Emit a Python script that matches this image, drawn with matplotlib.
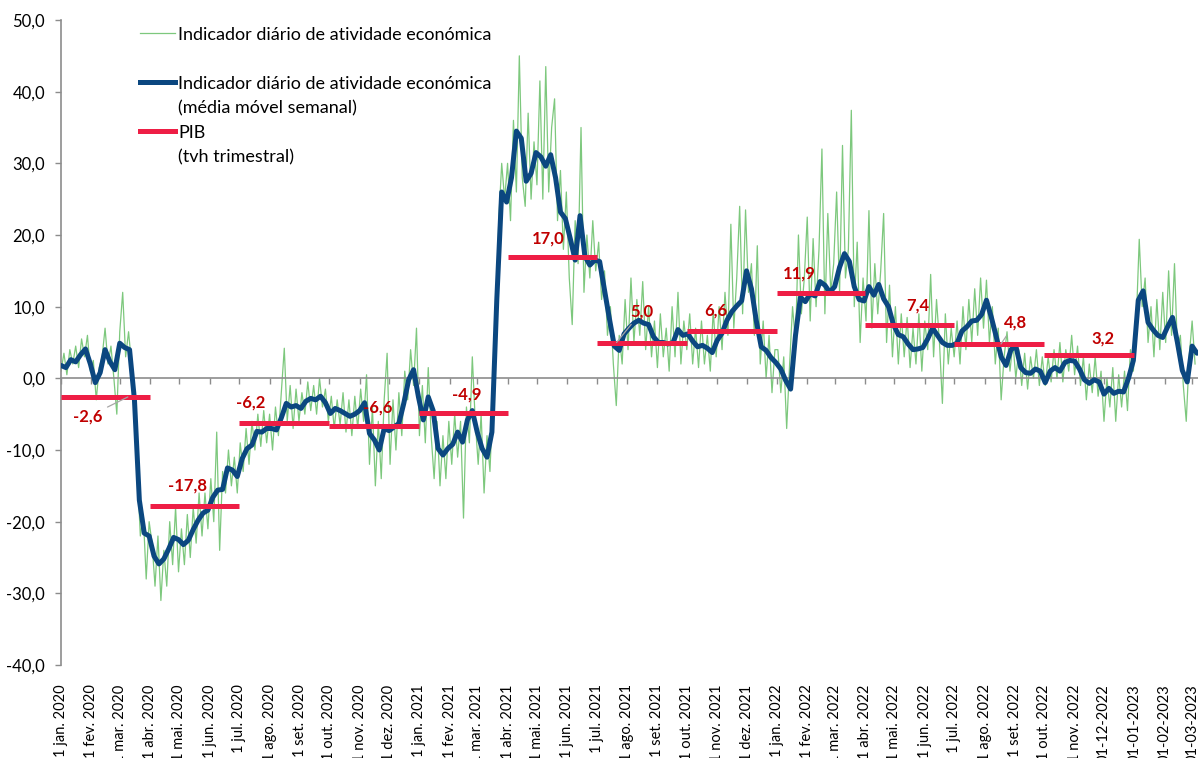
import pandas as pd
import matplotlib
matplotlib.use("Agg")
from matplotlib import pyplot as plt
from matplotlib import dates as mpl_dates
from matplotlib.lines import Line2D
import matplotlib.ticker as ticker

plt.rcParams["font.family"] = ["Lato", "DejaVu Sans"]

green = "#7DC87D"
blue = "#0B4780"
red = "#EE1E45"
label_red = "#C00000"
axis_gray = "#8C8C8C"

start = pd.Timestamp("2020-01-01")

# indicador diario (um valor a cada 3 dias)
daily_vals = [
    1.0, 3.5, 0.5, 4.0, 2.0, 4.5, 1.5, 5.5, 3.0, 6.0,
    1.0, 2.5, -3.0, 1.5, 3.0, 7.0, 2.0, 4.5, 0.0, -5.0,
    6.5, 12.0, 3.0, 6.5, 2.0, -6.0, -13.0, -22.0, -19.0, -28.0,
    -20.0, -23.0, -29.0, -22.0, -31.0, -24.0, -29.0, -20.0, -26.0, -18.0,
    -27.0, -21.0, -26.0, -19.0, -25.0, -18.0, -23.0, -16.0, -22.0, -16.0,
    -21.0, -14.0, -20.0, -7.5, -24.0, -13.0, -16.0, -10.0, -15.0, -11.0,
    -16.0, -9.0, -13.0, -7.0, -12.0, -6.0, -10.0, -5.0, -9.5, -4.5,
    -9.0, -5.0, -10.0, -4.0, -8.0, -2.0, 4.2, -6.0, -1.0, -7.0,
    -1.5, -6.0, -2.0, -5.0, -0.5, -4.5, -1.0, -5.0, 0.0, -4.0,
    -1.5, -6.0, -2.5, -7.0, -3.0, -6.5, -2.0, -7.5, -3.0, -8.0,
    -2.5, -7.0, -1.5, -6.0, 0.5, -12.0, -4.0, -15.0, -6.0, -14.0,
    -3.0, 3.5, -12.0, -3.0, -10.0, -2.0, -8.0, 1.0, -3.0, 4.0,
    -1.0, 7.0, -8.0, -1.0, -9.0, 1.5, -8.0, -14.0, -6.0, -15.0,
    -8.0, -14.0, -6.0, -12.0, -5.0, -11.0, -6.0, -19.5, -4.0, -9.0,
    3.0, -6.0, -12.0, -5.0, -16.0, -8.0, -13.0, -3.0, 6.0, 22.0,
    30.0, 25.0, 30.0, 22.0, 36.0, 26.0, 45.0, 28.0, 24.0, 37.0,
    25.0, 33.0, 27.0, 41.5, 25.0, 43.5, 26.0, 35.0, 39.0, 22.0,
    29.0, 18.0, 26.0, 14.0, 7.5, 22.0, 16.0, 35.0, 12.0, 20.0,
    14.0, 22.0, 15.0, 19.0, 11.0, 15.0, 6.0, 10.0, 2.0, -3.8,
    6.0, 2.0, 11.0, 4.0, 14.0, 5.0, 11.0, 6.0, 13.5, 4.0,
    10.0, 3.0, 8.0, 1.5, 9.0, 3.0, 7.0, 1.0, 10.0, 3.0,
    12.0, 2.0, 8.0, 4.0, 9.0, 2.0, 7.0, 1.5, 8.0, 2.0,
    6.0, 1.0, 9.5, 3.0, 10.0, 4.0, 12.0, 6.0, 21.5, 7.0,
    14.0, 24.0, 9.0, 23.5, 12.0, 16.0, 6.0, 18.5, 2.0, 8.0,
    0.0, 6.0, -2.0, 4.0, 4.0, -2.0, 3.0, -7.0, 2.0, 10.0,
    5.0, 20.0, 9.0, 14.0, 22.5, 8.0, 19.5, 10.0, 18.0, 32.0,
    9.0, 23.0, 12.0, 16.0, 26.0, 12.0, 32.5, 14.0, 18.0, 37.4,
    10.0, 19.0, 5.0, 14.0, 8.0, 23.4, 7.0, 16.0, 9.0, 15.0,
    23.0, 5.0, 13.0, 3.0, 10.0, 2.0, 9.0, 3.0, 8.5, 1.5,
    7.0, 2.0, 9.0, 1.0, 8.0, 4.0, 14.5, 3.0, 11.0, 5.0,
    -3.5, 9.0, 2.0, 7.0, 3.0, 8.0, 2.0, 10.0, 4.0, 11.0,
    5.0, 12.5, 6.0, 14.0, 7.0, 13.7, 5.0, 10.0, 2.0, 7.0,
    -3.0, 3.0, 6.5, 1.0, 5.0, 0.0, 4.0, -1.0, 3.5, -1.5,
    3.0, 0.0, 4.0, -1.0, 3.0, -1.0, 3.0, -0.5, 4.0, 0.0,
    5.0, -0.5, 4.0, 1.0, 6.0, 0.5, 4.5, -1.0, 3.0, -3.0,
    2.0, -2.0, 3.0, -2.5, 1.0, -6.0, 0.0, -4.0, 1.5, -6.0,
    0.5, -4.0, 1.0, -4.5, 4.0, 1.0, 8.0, 19.4, 10.0, 14.0,
    5.0, 10.0, 3.0, 11.0, 4.0, 12.0, 5.0, 15.0, 6.0, 16.0,
    4.0, 6.0, -1.0, -6.0, 3.0, 8.0, 2.0,
]

# media movel semanal (um valor a cada 5 dias)
weekly_avg_vals = [
    1.8, 1.5, 2.6, 2.3, 3.3, 4.1, 2.0, -0.6, 0.8, 4.0,
    2.3, 1.2, 4.9, 4.3, 4.0, -3.0, -17.0, -21.6, -22.0, -24.8,
    -25.9, -25.2, -23.8, -22.2, -22.5, -23.2, -22.6, -21.1, -19.8, -18.8,
    -18.4, -16.6, -15.6, -15.5, -12.5, -12.8, -13.7, -11.2, -9.8, -9.3,
    -7.4, -7.5, -7.0, -7.0, -7.2, -5.5, -3.5, -4.0, -3.8, -4.2,
    -3.2, -2.8, -3.0, -2.5, -3.4, -4.9, -4.2, -4.5, -4.9, -5.3,
    -5.0, -4.5, -3.4, -7.7, -8.6, -10.0, -7.0, -7.3, -6.8, -6.3,
    -3.5, -0.2, 1.2, -2.6, -5.8, -2.6, -4.5, -9.8, -10.7, -9.8,
    -9.2, -7.5, -8.9, -5.8, -4.5, -7.5, -9.8, -11.0, -7.5, 11.0,
    26.0, 24.6, 28.0, 34.5, 33.5, 27.5, 28.6, 31.5, 30.9, 29.6,
    31.2, 28.0, 23.2, 22.3, 19.5, 16.5, 22.7, 17.0, 15.8, 16.5,
    16.3, 12.3, 8.3, 4.5, 3.9, 6.2, 7.0, 7.7, 8.1, 7.7,
    7.5, 5.8, 5.0, 5.0, 4.8, 5.0, 6.8, 6.0, 6.2, 5.2,
    4.4, 4.6, 4.2, 3.6, 5.3, 6.3, 8.1, 9.3, 10.1, 10.8,
    15.0, 12.5, 8.0, 4.4, 3.9, 2.9, 2.2, 1.3, -0.3, -1.5,
    6.0, 11.3, 10.7, 11.8, 11.5, 13.5, 13.0, 12.0, 12.8, 15.5,
    17.4, 16.3, 12.8, 11.0, 10.8, 12.8, 11.6, 13.1, 11.1, 10.0,
    7.5, 6.1, 5.8, 4.8, 4.0, 4.1, 4.3, 5.5, 7.0, 6.0,
    5.0, 4.6, 4.6, 4.9, 6.6, 7.2, 8.0, 8.1, 8.9, 10.9,
    8.5, 5.8, 3.0, 1.8, 4.0, 4.5, 1.5, 0.8, 0.7, 1.3,
    1.0, -0.6, 1.0, 1.5, 1.0, 2.2, 2.5, 2.4, 1.3, -0.2,
    -0.7, -0.2, -0.5, -2.2, -1.4, -2.1, -1.8, -1.9, 0.0, 2.5,
    10.9, 12.2, 7.8, 6.8, 6.0, 5.7, 7.2, 8.5, 5.0, 1.1,
    -0.5, 4.5, 3.5,
]

pib_quarters = ["2020Q1", "2020Q2", "2020Q3", "2020Q4", "2021Q1", "2021Q2",
                "2021Q3", "2021Q4", "2022Q1", "2022Q2", "2022Q3", "2022Q4"]
pib_vals = [-2.6, -17.8, -6.2, -6.6, -4.9, 17.0, 5.0, 6.6, 11.9, 7.4, 4.8, 3.2]

meses = ["jan.", "fev.", "mar.", "abr.", "mai.", "jun.",
         "jul.", "ago.", "set.", "out.", "nov.", "dez."]
tick_labels = ([f"1 {m} {y}" for y in (2020, 2021) for m in meses]
               + [f"1 {m} 2022" for m in meses[:11]]
               + ["01-12-2022", "01-01-2023", "01-02-2023", "01-03-2023"])

# label offsets in pixels from the quarter midpoint (dx, dy)
label_offsets = [(-18, -20), (-7, 20), (-34, 20), (3, 18), (3, 19), (-4, 18),
                 (0, 31), (-16, 21), (-22, 20), (8, 20), (16, 21), (14, 17)]
leaders = {0: 0.75, 6: 0.22, 10: 0.52}

daily_dates = pd.date_range(start, periods=len(daily_vals), freq="3D")
avg_dates = pd.date_range(start, periods=len(weekly_avg_vals), freq="5D")
q = pd.PeriodIndex(pib_quarters, freq="Q")
q_start = q.start_time
q_end = (q + 1).start_time

fig = plt.figure(figsize=(11.98, 7.58), dpi=100)
ax = fig.add_axes([61 / 1198, 93 / 758, 1137 / 1198, 645 / 758])

ax.plot(daily_dates, daily_vals, color=green, lw=0.9, zorder=2)
ax.plot(avg_dates, weekly_avg_vals, color=blue, lw=3.6, zorder=3,
        solid_joinstyle="round", solid_capstyle="round")
ax.hlines(pib_vals, q_start, q_end, color=red, lw=3.6, zorder=4)

for i, v in enumerate(pib_vals):
    dx, dy = label_offsets[i]
    mid = q_start[i] + (q_end[i] - q_start[i]) / 2
    txt = f"{v:.1f}".replace(".", ",")
    if i in leaders:
        tgt = q_start[i] + (q_end[i] - q_start[i]) * leaders[i]
        shift = (mid - tgt) / pd.Timedelta(days=1) * 0.979
        ax.annotate(txt, xy=(tgt, v), xytext=(dx + shift, dy),
                    textcoords="offset pixels", ha="center", va="center",
                    color=label_red, fontsize=12, fontweight="bold", zorder=5,
                    arrowprops=dict(arrowstyle="-", color="#A6A6A6", lw=0.9,
                                    shrinkA=2, shrinkB=0))
    else:
        ax.annotate(txt, xy=(mid, v), xytext=(dx, dy), textcoords="offset pixels",
                    ha="center", va="center", color=label_red, fontsize=12,
                    fontweight="bold", zorder=5)

ax.set_xlim(start, start + pd.Timedelta(days=1161))
ax.set_ylim(-40, 50)
ax.set_yticks(range(-40, 51, 10))
ax.yaxis.set_major_formatter(ticker.FuncFormatter(lambda v, p: f"{v:.1f}".replace(".", ",")))
ax.tick_params(axis="y", direction="out", length=4.5, width=1, color=axis_gray,
               labelsize=12, pad=7)

ticks = pd.date_range("2020-01-01", "2023-03-01", freq="MS")
ax.set_xticks(ticks)
ax.tick_params(axis="x", direction="out", length=4, width=1, color=axis_gray,
               labelbottom=False)
ax.spines["bottom"].set_position(("data", 0))
for s in ["top", "right"]:
    ax.spines[s].set_visible(False)
for s in ["left", "bottom"]:
    ax.spines[s].set_color(axis_gray)
    ax.spines[s].set_linewidth(1.2)

sec = ax.secondary_xaxis("bottom")
sec.set_xticks(mpl_dates.date2num(ticks.to_pydatetime()), labels=tick_labels,
               rotation=90, fontsize=10.5)
sec.tick_params(length=0, pad=14)
sec.spines["bottom"].set_visible(False)

handles = [Line2D([], [], color=green, lw=0.9), Line2D([], [], color="none"),
           Line2D([], [], color=blue, lw=3.6), Line2D([], [], color="none"),
           Line2D([], [], color=red, lw=3.6), Line2D([], [], color="none")]
labels = ["Indicador diário de atividade económica", " ",
          "Indicador diário de atividade económica", "(média móvel semanal)",
          "PIB", "(tvh trimestral)"]
ax.legend(handles, labels, loc="upper left", bbox_to_anchor=(0.063, 1.001),
          frameon=False, fontsize=13, handlelength=1.95, handletextpad=0.17,
          labelspacing=0.47, borderaxespad=0)

plt.savefig("out.png", dpi=100)
